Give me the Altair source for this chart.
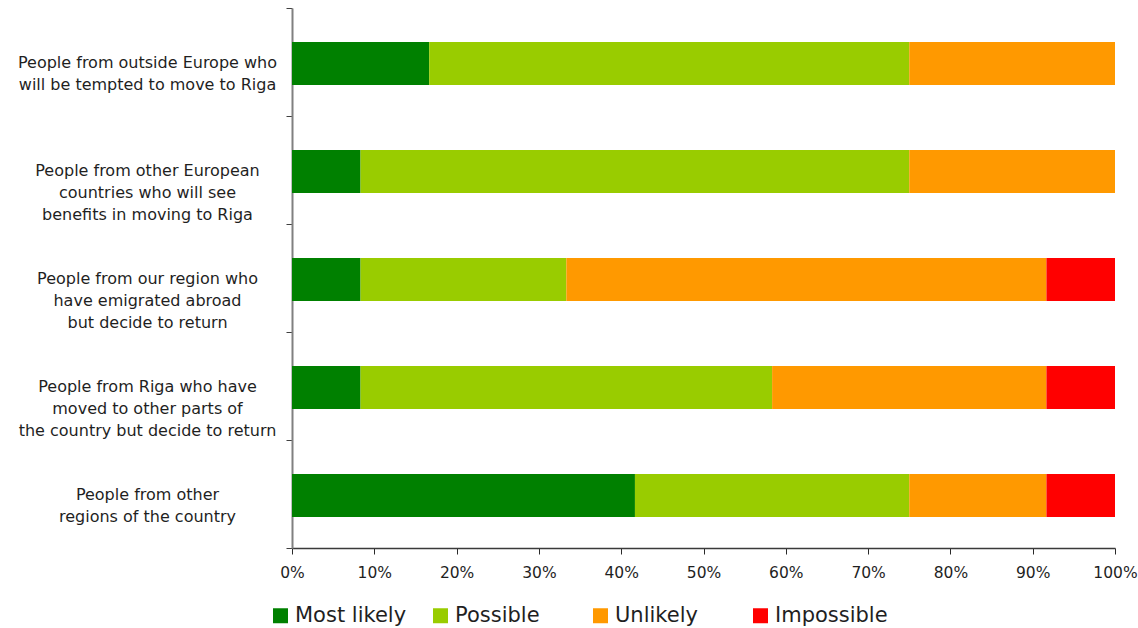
import altair as alt
import pandas as pd

# Survey categories (top to bottom); "|" marks a line break in the axis label
categories = [
    "People from outside Europe who|will be tempted to move to Riga",
    "People from other European|countries who will see|benefits in moving to Riga",
    "People from our region who|have emigrated abroad|but decide to return",
    "People from Riga who have|moved to other parts of|the country but decide to return",
    "People from other|regions of the country",
]

responses = ["Most likely", "Possible", "Unlikely", "Impossible"]
colors = ["#008000", "#99CC00", "#FF9900", "#FF0000"]

# Share of answers (%) per category
most_likely = [16.67, 8.33, 8.33, 8.33, 41.67]
possible = [58.33, 66.67, 25.00, 50.00, 33.33]
unlikely = [25.00, 25.00, 58.33, 33.33, 16.67]
impossible = [0.00, 0.00, 8.33, 8.33, 8.33]

series = [most_likely, possible, unlikely, impossible]
rows = []
for r_idx, (resp, vals) in enumerate(zip(responses, series)):
    for cat, v in zip(categories, vals):
        rows.append({"category": cat, "response": resp, "order": r_idx, "value": v})
df = pd.DataFrame(rows)

FONT = "DejaVu Sans"
TEXT = "#1f1f1f"

bars = alt.Chart(df).mark_bar(height=alt.RelativeBandSize(0.4), yOffset=1.5).encode(
    y=alt.Y(
        "category:N",
        sort=categories,
        title=None,
        scale=alt.Scale(paddingInner=0, paddingOuter=0),
        axis=alt.Axis(
            labelExpr="split(datum.label, '|')",
            labelAlign="center",
            labelBaseline="middle",
            labelPadding=139,
            labelLineHeight=22,
            labelFontSize=16,
            labelFont=FONT,
            labelColor=TEXT,
            labelLimit=400,
            tickBand="extent",
            tickSize=6,
            tickColor="#404040",
            domainColor="#808080",
            domainWidth=2,
            grid=False,
        ),
    ),
    x=alt.X(
        "value:Q",
        stack="normalize",
        title=None,
        scale=alt.Scale(domain=[0, 1], nice=False),
        axis=alt.Axis(
            format=".0%",
            values=[i / 10 for i in range(11)],
            tickSize=6,
            tickColor="#2a2a2a",
            domainColor="#3a3a3a",
            domainWidth=1.5,
            labelFontSize=15.5,
            labelFont=FONT,
            labelColor=TEXT,
            labelPadding=11,
            labelFlush=False,
            grid=False,
        ),
    ),
    color=alt.Color(
        "response:N",
        sort=responses,
        scale=alt.Scale(domain=responses, range=colors),
        legend=alt.Legend(
            title=None,
            orient="none",
            direction="horizontal",
            columns=4,
            gridAlign="all",
            columnPadding=22,
            legendX=-22,
            legendY=597,
            symbolType="square",
            symbolSize=225,
            symbolStrokeWidth=0,
            symbolOpacity=1,
            labelFontSize=21,
            labelFont=FONT,
            labelColor=TEXT,
            labelOffset=4,
            labelLimit=300,
        ),
    ),
    order=alt.Order("order:Q", sort="ascending"),
)

chart = bars.properties(
    width=823,
    height=540,
    background="white",
    autosize=alt.AutoSizeParams(type="none"),
    padding={"left": 292, "top": 8, "right": 23, "bottom": 80},
).configure_view(stroke=None)

chart.save("out.html", embed_options={"renderer": "svg", "actions": False})
